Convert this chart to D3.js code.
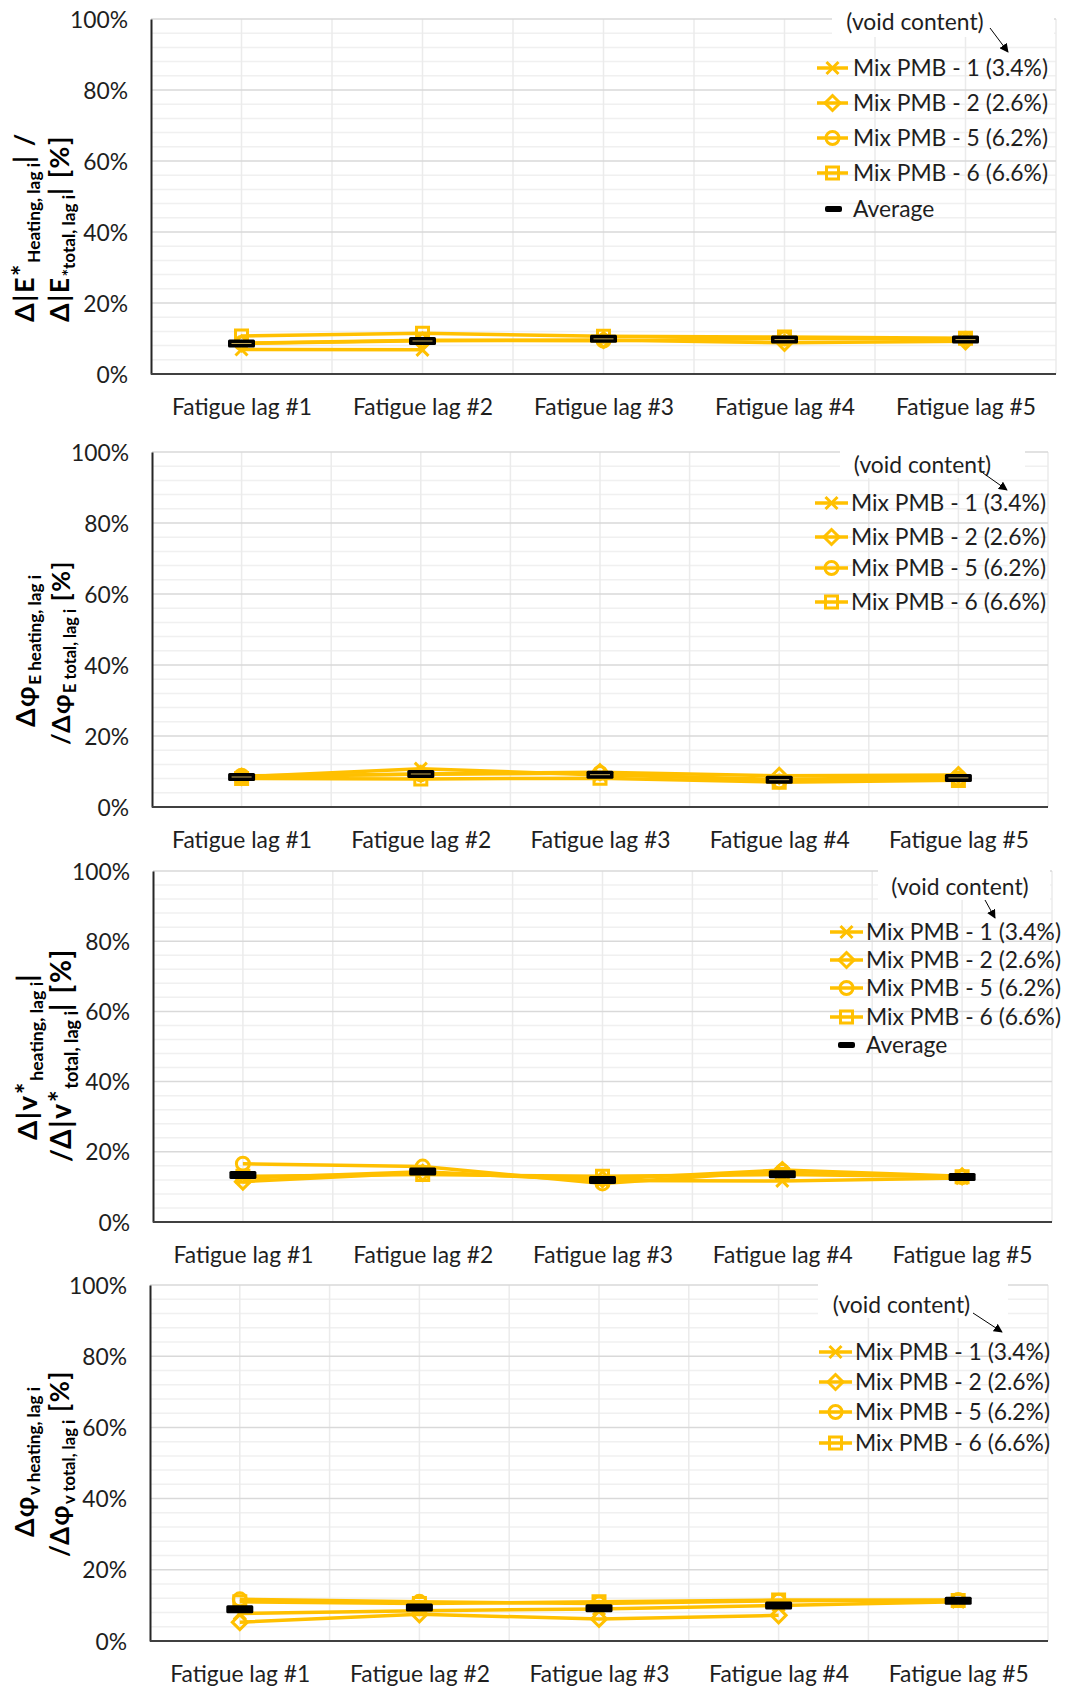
<!DOCTYPE html>
<html><head><meta charset="utf-8">
<script src="https://cdn.jsdelivr.net/npm/d3@7"></script>
<style>html,body{margin:0;padding:0;background:#fff}</style>
</head><body>
<svg id="chart" width="1065" height="1689"></svg>
<script>
// ---------------- DATA ----------------
const categories = ["Fatigue lag #1", "Fatigue lag #2", "Fatigue lag #3", "Fatigue lag #4", "Fatigue lag #5"];
const seriesNames = ["Mix PMB - 1 (3.4%)", "Mix PMB - 2 (2.6%)", "Mix PMB - 5 (6.2%)", "Mix PMB - 6 (6.6%)"];
const averageName = "Average";
const voidLabel = "(void content)";
const yTickValues = [0, 20, 40, 60, 80, 100];
const yMinorStep = 4;

// Panel 1: Δ|E*| heating / total
const p1_pmb1 = [6.9, 6.8, null, null, null];
const p1_pmb2 = [8.6, 9.4, 9.6, 8.8, 9.2];
const p1_pmb5 = [8.7, 9.5, 9.4, 10.0, 9.9];
const p1_pmb6 = [10.7, 11.5, 10.6, 10.4, 10.1];
const p1_avg  = [8.6, 9.3, 9.9, 9.7, 9.7];

// Panel 2: Δφ_E heating / total
const p2_pmb1 = [8.5, 10.8, 9.0, 7.8, 8.3];
const p2_pmb2 = [8.5, 9.3, 9.8, 8.8, 9.0];
const p2_pmb5 = [8.8, 9.2, 9.6, 7.2, 8.0];
const p2_pmb6 = [8.0, 7.9, 8.1, 7.0, 7.5];
const p2_avg  = [8.45, 9.3, 9.1, 7.7, 8.2];

// Panel 3: Δ|v*| heating / total
const p3_pmb1 = [12.5, 14.3, 11.8, 11.7, 12.5];
const p3_pmb2 = [11.5, 14.0, 12.2, 14.8, 13.0];
const p3_pmb5 = [16.6, 15.8, 11.0, 14.5, 12.8];
const p3_pmb6 = [13.0, 13.5, 13.0, 13.5, 12.9];
const p3_avg  = [13.4, 14.4, 12.0, 13.6, 12.8];

// Panel 4: Δφ_v heating / total
const p4_pmb1 = [7.7, 8.5, 9.0, 10.0, 11.0];
const p4_pmb2 = [5.3, 7.5, 6.2, 7.2, null];
const p4_pmb5 = [11.7, 11.0, 10.5, 11.3, 11.5];
const p4_pmb6 = [11.0, 10.5, 11.0, 11.5, 11.4];
const p4_avg  = [8.9, 9.4, 9.2, 10.0, 11.3];

// Axis titles (text segments: n = normal, sub = subscript, sup = superscript)
const title1 = [[["Δ|E","n"],["*","sup"],["Heating, lag i","sub"],["| /","n"]],
                [["Δ|E","n"],["*total, lag i","sub"],["| [%]","n"]]];
const title2 = [[["Δφ","n"],["E heating, lag i","sub"]],
                [["/Δφ","n"],["E total, lag i","sub"],[" [%]","n"]]];
const title3 = [[["Δ|v","n"],["*","sup"],["heating, lag i","sub"],["|","n"]],
                [["/Δ|v","n"],["*","sup"],["total, lag i","sub"],["|","n"],[" [%]","n"]]];
const title4 = [[["Δφ","n"],["v heating, lag i","sub"]],
                [["/Δφ","n"],["v total, lag i","sub"],[" [%]","n"]]];

// ---------------- LAYOUT ----------------
const panels = [
  {series:[p1_pmb1,p1_pmb2,p1_pmb5,p1_pmb6], avg:p1_avg, title:title1, showAvgLegend:true, innerLine:true,
   L:151, R:1056, T:19, B:374, tx:[33.5,68.5], ty:[227,228.5], tlen:[190,187],
   leg:{vx:915, vy:22, box:[832,0,1054,37], arrow:[990,28,1008,52], rows:[68,103,138,173], avgRow:209, s0:817, s1:848, text:853, a0:825, a1:842}},
  {series:[p2_pmb1,p2_pmb2,p2_pmb5,p2_pmb6], avg:p2_avg, title:title2, showAvgLegend:false, innerLine:true,
   L:152, R:1048, T:452, B:807, tx:[35,70], ty:[651,652.5], tlen:[152,185],
   leg:{vx:922.5, vy:465, box:[840,440,1025,478], arrow:[983,473,1007,490], rows:[503,537,568,602], s0:815, s1:848, text:851}},
  {series:[p3_pmb1,p3_pmb2,p3_pmb5,p3_pmb6], avg:p3_avg, title:title3, showAvgLegend:true, innerLine:false,
   L:153, R:1052, T:871, B:1222, tx:[37,71], ty:[1056.5,1055], tlen:[167,214],
   leg:{vx:960, vy:887, box:[878,862,1050,900], arrow:[985,900,995,918], rows:[932,960,988,1017], avgRow:1045, s0:830, s1:863, text:866, a0:838, a1:855}},
  {series:[p4_pmb1,p4_pmb2,p4_pmb5,p4_pmb6], avg:p4_avg, title:title4, showAvgLegend:false, innerLine:false,
   L:150, R:1048, T:1285, B:1641, tx:[34,69], ty:[1462,1463.5], tlen:[150,187],
   leg:{vx:901.5, vy:1305, box:[818,1282,1008,1318], arrow:[973,1313,1002,1332], rows:[1352,1382,1412,1443], s0:819, s1:852, text:855}}
];

const YELLOW = "#FFC000";
const TEXT = "#1e1e1e";
const FONT = "Lato, 'Open Sans', 'DejaVu Sans', sans-serif";

const svg = d3.select("#chart");
svg.append("defs").append("marker")
  .attr("id","arrowhead").attr("viewBox","0 0 10 10").attr("refX",9).attr("refY",5)
  .attr("markerWidth",9).attr("markerHeight",9).attr("markerUnits","userSpaceOnUse").attr("orient","auto")
  .append("path").attr("d","M0,0 L10,5 L0,10 Z").attr("fill","#000");

function measure(txt, size, weight) {
  const t = svg.append("text").attr("font-family",FONT).attr("font-size",size)
    .attr("font-weight",weight||400).text(txt);
  const w = t.node().getComputedTextLength(); t.remove(); return w;
}
const baseSize = 100 * 140 / measure(categories[0], 100);
const mainRatio = 1.12;
const subRatio = 0.72;

function markerPath(i) {
  if (i === 0) return "M-6,-6L6,6M-6,6L6,-6";
  if (i === 1) return "M0,-7.5L7.5,0L0,7.5L-7.5,0Z";
  if (i === 2) return d3.arc()({innerRadius:0, outerRadius:6.5, startAngle:0, endAngle:2*Math.PI});
  return "M-6,-6H6V6H-6Z";
}

function buildTitle(g, segs, x, y, targetLen) {
  const t = g.append("text").attr("transform", `translate(${x},${y}) rotate(-90)`)
    .attr("text-anchor", "middle").attr("font-family", FONT).attr("font-weight", 700).attr("fill", "#000");
  const draw = (scale) => {
    t.selectAll("tspan").remove();
    let shift = 0;
    segs.forEach(([s, kind]) => {
      const target = (kind === "sub" ? 6 : (kind === "sup" ? -2 : 0)) * scale;
      t.append("tspan").attr("dy", target - shift)
        .attr("font-size", (kind === "sub" ? subRatio : mainRatio) * baseSize * scale)
        .attr("letter-spacing", kind === "sub" ? 0 : 1.5 * scale)
        .text(s);
      shift = target;
    });
  };
  draw(1);
  const len = t.node().getComputedTextLength();
  draw(targetLen / len);
}

panels.forEach((p) => {
  const g = svg.append("g");
  const x = d3.scalePoint().domain(categories).range([p.L, p.R]).padding(0.5);
  const xb = d3.scaleLinear().domain([0, categories.length]).range([p.L, p.R]);
  const y = d3.scaleLinear().domain([0, 100]).range([p.B, p.T]);

  // minor horizontal gridlines
  const minor = d3.range(0, 100 + 0.01, yMinorStep).filter(v => !yTickValues.includes(v));
  g.selectAll(".mg").data(minor).join("line")
    .attr("x1", p.L).attr("x2", p.R).attr("y1", d => y(d)).attr("y2", d => y(d))
    .attr("stroke", "#f0f0f0").attr("stroke-width", 1.5);
  // vertical gridlines (centres + boundaries)
  const vlines = d3.range(0, categories.length * 2 + 1).map(k => k / 2).filter(k => k > 0);
  g.selectAll(".vg").data(vlines).join("line")
    .attr("x1", d => xb(d)).attr("x2", d => xb(d)).attr("y1", p.T).attr("y2", p.B)
    .attr("stroke", "#ebebeb").attr("stroke-width", 1.5);
  // major gridlines
  g.selectAll(".Mg").data(yTickValues.filter(v => v > 0)).join("line")
    .attr("x1", p.L).attr("x2", p.R).attr("y1", d => y(d)).attr("y2", d => y(d))
    .attr("stroke", "#d9d9d9").attr("stroke-width", 1.5);

  // y axis
  const ya = g.append("g").attr("transform", `translate(${p.L},0)`)
    .call(d3.axisLeft(y).tickValues(yTickValues).tickFormat(d => d + "%").tickSize(0).tickPadding(23));
  ya.select(".domain").attr("stroke", "#262626").attr("stroke-width", 2);
  ya.selectAll("text").attr("font-family", FONT).attr("font-size", baseSize).attr("fill", TEXT).attr("dy", "0.35em");

  // x axis
  const xa = g.append("g").attr("transform", `translate(0,${p.B})`)
    .call(d3.axisBottom(x).tickSize(0).tickPadding(0).tickSizeOuter(0));
  xa.select(".domain").attr("stroke", "#404040").attr("stroke-width", 2)
    .attr("d", `M${p.L},0H${p.R}`);
  xa.selectAll("text").attr("font-family", FONT).attr("font-size", baseSize).attr("fill", TEXT)
    .attr("y", 33).attr("dy", "0.35em");

  // legend "(void content)" box
  const lg = p.leg;
  g.append("rect").attr("x", lg.box[0]).attr("y", lg.box[1]).attr("width", lg.box[2]-lg.box[0])
    .attr("height", lg.box[3]-lg.box[1]).attr("fill", "#fff");
  g.append("text").attr("x", lg.vx).attr("y", lg.vy).attr("dy","0.35em").attr("text-anchor","middle")
    .attr("font-family", FONT).attr("font-size", baseSize).attr("fill", TEXT).text(voidLabel);
  g.append("line").attr("x1", lg.arrow[0]).attr("y1", lg.arrow[1]).attr("x2", lg.arrow[2]).attr("y2", lg.arrow[3])
    .attr("stroke", "#000").attr("stroke-width", 1).attr("marker-end", "url(#arrowhead)");

  // series lines
  const line = d3.line().defined(d => d.v != null).x(d => x(d.c)).y(d => y(d.v));
  p.series.forEach((vals) => {
    const pts = vals.map((v, k) => ({c: categories[k], v}));
    g.append("path").datum(pts).attr("d", line).attr("fill", "none")
      .attr("stroke", YELLOW).attr("stroke-width", 3.5).attr("stroke-linejoin", "round");
  });
  // series markers
  p.series.forEach((vals, i) => {
    const pts = vals.map((v, k) => ({c: categories[k], v})).filter(d => d.v != null);
    g.selectAll(null).data(pts).join("path")
      .attr("transform", d => `translate(${x(d.c)},${y(d.v)})`)
      .attr("d", markerPath(i)).attr("fill", "none").attr("stroke", YELLOW).attr("stroke-width", 3);
  });
  // average markers
  const avgPts = p.avg.map((v, k) => ({c: categories[k], v}));
  g.selectAll(null).data(avgPts).join("rect")
    .attr("x", d => x(d.c) - 13.5).attr("y", d => y(d.v) - 4).attr("width", 27).attr("height", 8)
    .attr("rx", 1.5).attr("fill", "#000");
  if (p.innerLine) {
    g.selectAll(null).data(avgPts).join("line")
      .attr("x1", d => x(d.c) - 10).attr("x2", d => x(d.c) + 10)
      .attr("y1", d => y(d.v)).attr("y2", d => y(d.v))
      .attr("stroke", "#c9aa55").attr("stroke-width", 1);
  }

  // legend entries
  seriesNames.forEach((name, i) => {
    const cy = lg.rows[i];
    const mx = (lg.s0 + lg.s1) / 2;
    g.append("line").attr("x1", lg.s0).attr("x2", lg.s1).attr("y1", cy).attr("y2", cy)
      .attr("stroke", YELLOW).attr("stroke-width", 3.5);
    g.append("path").attr("transform", `translate(${mx},${cy})`).attr("d", markerPath(i))
      .attr("fill", "none").attr("stroke", YELLOW).attr("stroke-width", 3);
    g.append("text").attr("x", lg.text).attr("y", cy).attr("dy", "0.35em")
      .attr("font-family", FONT).attr("font-size", baseSize).attr("fill", TEXT).text(name);
  });
  if (p.showAvgLegend) {
    g.append("rect").attr("x", lg.a0).attr("y", lg.avgRow - 3).attr("width", lg.a1 - lg.a0).attr("height", 6)
      .attr("rx", 2).attr("fill", "#000");
    g.append("text").attr("x", lg.text).attr("y", lg.avgRow).attr("dy", "0.35em")
      .attr("font-family", FONT).attr("font-size", baseSize).attr("fill", TEXT).text(averageName);
  }

  // y axis title (two rotated lines)
  p.title.forEach((segs, li) => buildTitle(g, segs, p.tx[li], p.ty[li], p.tlen[li]));
});
</script>
</body></html>
